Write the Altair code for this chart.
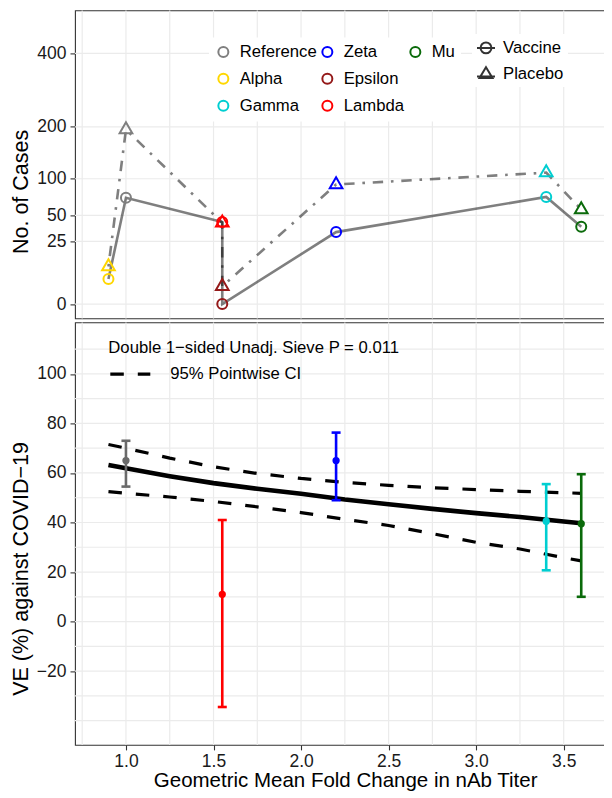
import altair as alt
import pandas as pd

# ---------------- data ----------------
variants = ["Reference", "Alpha", "Gamma", "Zeta", "Epsilon", "Lambda", "Mu"]
fold_change = [1.0, 0.9, 3.4, 2.2, 1.55, 1.55, 3.6]
vaccine_cases = [72, 4, 73, 33, 0, 43, 38]
placebo_cases = [194, 9, 110, 91, 2, 42, 57]
line_order = [2, 1, 6, 5, 4, 3, 7]

legend_order = ["Reference", "Alpha", "Gamma", "Zeta", "Epsilon", "Lambda", "Mu", " "]
legend_colors = ["#7F7F7F", "#FFD700", "#00CED1", "#0000FF", "#941919", "#FF0000", "#0A6A0A", "#FFFFFF"]

ve_variants = ["Reference", "Lambda", "Zeta", "Gamma", "Mu"]
ve_colors = ["#6A6A6A", "#FF0000", "#0000FF", "#00CED1", "#0A6A0A"]
ve_fold = [1.0, 1.55, 2.2, 3.4, 3.6]
ve_est = [65, 11, 65, 40.5, 39.5]
ve_low = [54.5, -34.5, 49, 20.7, 10]
ve_high = [73, 41, 76.3, 55.5, 59.5]

curve_fold = [0.9, 1.0, 1.25, 1.5, 1.75, 2.0, 2.25, 2.5, 2.75, 3.0, 3.25, 3.5, 3.6]
curve_ve = [63.2, 61.9, 58.7, 55.9, 53.6, 51.6, 49.3, 47.4, 45.5, 43.8, 42.2, 40.4, 39.7]
curve_upper = [71.5, 70, 66, 62.5, 59.8, 57.8, 56.2, 55, 54, 53.3, 52.6, 52, 51.8]
curve_lower = [52.5, 51.8, 50.3, 48.5, 46.3, 44, 41.3, 38.8, 35.5, 32, 29.3, 25.8, 24.5]

x_major = [1.0, 1.5, 2.0, 2.5, 3.0, 3.5]
x_grid = [0.75, 1.0, 1.25, 1.5, 1.75, 2.0, 2.25, 2.5, 2.75, 3.0, 3.25, 3.5, 3.75]
cases_ticks = [0, 25, 50, 100, 200, 400]
ve_ticks = [-20, 0, 20, 40, 60, 80, 100]
ve_grid = [-40, -30, -20, -10, 0, 10, 20, 30, 40, 50, 60, 70, 80, 90, 100, 110]

groups = ["Vaccine", "Placebo"]
group_paths = [
    "M-0.6,0A0.6,0.6,0,1,1,0.6,0A0.6,0.6,0,1,1,-0.6,0Z M-1,0L1,0",
    "M0,-0.75L0.72,0.45L-0.72,0.45Z M-1,0.3L1,0.3",
]

# ---------------- tables ----------------
vac = pd.DataFrame({"Variant": variants, "Fold": fold_change, "Cases": vaccine_cases,
                    "Group": "Vaccine", "ord": line_order})
pla = pd.DataFrame({"Variant": variants, "Fold": fold_change, "Cases": placebo_cases,
                    "Group": "Placebo", "ord": line_order})
both = pd.concat([vac, pla], ignore_index=True)
xg = pd.DataFrame({"g": x_grid})
cg = pd.DataFrame({"c": cases_ticks})
vg = pd.DataFrame({"v": ve_grid})
ve_df = pd.DataFrame({"Variant": ve_variants, "Fold": ve_fold, "VE": ve_est,
                      "Low": ve_low, "High": ve_high})
curve_df = pd.DataFrame({"Fold": curve_fold, "VE": curve_ve})
ci_df = pd.concat([
    pd.DataFrame({"Fold": curve_fold, "VE": curve_upper, "bound": "upper"}),
    pd.DataFrame({"Fold": curve_fold, "VE": curve_lower, "bound": "lower"}),
], ignore_index=True)
ci_df["ci"] = "95% Pointwise CI"

FONT = "Liberation Sans"
GRID = "#EBEBEB"
W = 540.3
H_TOP = 308
H_BOT = 422.5

xscale = alt.Scale(domain=[0.709, 3.7945], nice=False, zero=False)
yscale_top = alt.Scale(type="sqrt", domain=[-1.3, 549], nice=False, zero=False)
yscale_bot = alt.Scale(domain=[-49.8, 120.8], nice=False, zero=False)

y_axis_top = alt.Axis(values=cases_ticks, title="No. of Cases", grid=False, domain=False,
                      tickSize=5, tickColor="#333333", tickWidth=1.1,
                      labelFontSize=17.5, labelColor="#1A1A1A", labelPadding=4,
                      titleFontSize=21.5, titleFontWeight="normal", titleColor="black",
                      titleX=-47.7, titleY=181, titleAngle=270, titleBaseline="alphabetic",
                      titleAlign="center", minExtent=42, maxExtent=42)
y_axis_bot = alt.Axis(values=ve_ticks, title="VE (%) against COVID\u221219", grid=False, domain=False,
                      tickSize=5, tickColor="#333333", tickWidth=1.1,
                      labelFontSize=17.5, labelColor="#1A1A1A", labelPadding=4,
                      titleFontSize=21.5, titleFontWeight="normal", titleColor="black",
                      titleX=-47.7, titleY=246, titleAngle=270, titleBaseline="alphabetic",
                      titleAlign="center", minExtent=42, maxExtent=42)
x_axis_bot = alt.Axis(values=x_major, format=".1f", title="Geometric Mean Fold Change in nAb Titer",
                      grid=False, domain=False, tickSize=5, tickColor="#333333", tickWidth=1.1,
                      labelFontSize=17.5, labelColor="#1A1A1A", labelPadding=3,
                      titleFontSize=20.5, titleFontWeight="normal", titleColor="black",
                      titlePadding=0)

color_top = alt.Scale(domain=legend_order, range=legend_colors)
color_legend = alt.Legend(title=None, orient="none", legendX=134, legendY=27, columns=3,
                          direction="vertical",
                          symbolType="circle", symbolSize=100, symbolStrokeWidth=2,
                          labelFontSize=16.7, labelColor="black", labelOffset=8,
                          rowPadding=8, columnPadding=1, padding=6, fillColor="white")
shape_legend = alt.Legend(title=None, orient="none", legendX=397, legendY=23.5,
                          symbolSize=324, symbolStrokeWidth=2, symbolStrokeColor="#333333",
                          symbolFillColor="transparent", symbolOpacity=1,
                          labelFontSize=16.7, labelColor="black", labelOffset=7,
                          rowPadding=5, padding=4, fillColor="white")

# ---------------- top panel ----------------
t_vgrid = alt.Chart(xg).mark_rule(color=GRID, strokeWidth=1.2).encode(
    x=alt.X("g:Q", scale=xscale, axis=None))
t_hgrid = alt.Chart(cg).mark_rule(color=GRID, strokeWidth=1.2).encode(
    y=alt.Y("c:Q", scale=yscale_top, axis=y_axis_top))
t_vline = alt.Chart(vac).mark_line(color="black", opacity=0.5, strokeWidth=2.6).encode(
    x=alt.X("Fold:Q", scale=xscale, axis=None),
    y=alt.Y("Cases:Q", scale=yscale_top, axis=y_axis_top),
    order="ord:Q")
t_pline = alt.Chart(pla).mark_line(color="black", opacity=0.5, strokeWidth=2.6,
                                    strokeDash=[2.6, 7.8, 10.4, 7.8]).encode(
    x=alt.X("Fold:Q", scale=xscale, axis=None),
    y=alt.Y("Cases:Q", scale=yscale_top, axis=y_axis_top),
    order="ord:Q")
t_vpts = alt.Chart(vac).mark_point(shape="circle", filled=False, size=100, strokeWidth=2,
                                    opacity=1).encode(
    x=alt.X("Fold:Q", scale=xscale, axis=None),
    y=alt.Y("Cases:Q", scale=yscale_top, axis=y_axis_top),
    color=alt.Color("Variant:N", scale=color_top, legend=color_legend))
t_ppts = alt.Chart(pla).mark_point(shape="triangle-up", filled=False, size=161, strokeWidth=2,
                                    opacity=1, yOffset=-1.8).encode(
    x=alt.X("Fold:Q", scale=xscale, axis=None),
    y=alt.Y("Cases:Q", scale=yscale_top, axis=y_axis_top),
    color=alt.Color("Variant:N", scale=color_top, legend=color_legend))
t_shape = alt.Chart(both).mark_point(opacity=0, size=10).encode(
    x=alt.X("Fold:Q", scale=xscale, axis=None),
    y=alt.Y("Cases:Q", scale=yscale_top, axis=y_axis_top),
    shape=alt.Shape("Group:N", scale=alt.Scale(domain=groups, range=group_paths),
                    legend=shape_legend))

top = alt.layer(t_vgrid, t_hgrid, t_vline, t_pline, t_vpts, t_ppts, t_shape).properties(
    width=W, height=H_TOP)

# ---------------- bottom panel ----------------
b_vgrid = alt.Chart(xg).mark_rule(color=GRID, strokeWidth=1.2).encode(
    x=alt.X("g:Q", scale=xscale, axis=x_axis_bot))
b_hgrid = alt.Chart(vg).mark_rule(color=GRID, strokeWidth=1.2).encode(
    y=alt.Y("v:Q", scale=yscale_bot, axis=y_axis_bot))
b_ci = alt.Chart(ci_df).mark_line(color="black", strokeWidth=3.2).encode(
    x=alt.X("Fold:Q", scale=xscale, axis=x_axis_bot),
    y=alt.Y("VE:Q", scale=yscale_bot, axis=y_axis_bot),
    detail="bound:N",
    strokeDash=alt.StrokeDash("ci:N", scale=alt.Scale(domain=["95% Pointwise CI"], range=[[13.5, 14]]),
                              legend=alt.Legend(title="Double 1\u2212sided Unadj. Sieve P = 0.011",
                                                orient="none", legendX=33.3, legendY=18,
                                                symbolType="stroke", symbolSize=1600,
                                                symbolStrokeWidth=3.2, symbolStrokeColor="black",
                                                titleFontSize=16.7, titleFontWeight="normal",
                                                titleColor="black", titlePadding=-5, titleLimit=500,
                                                labelFontSize=16.7, labelColor="black",
                                                labelOffset=18, padding=0)))
b_curve = alt.Chart(curve_df).mark_line(color="black", strokeWidth=4.6).encode(
    x=alt.X("Fold:Q", scale=xscale, axis=x_axis_bot),
    y=alt.Y("VE:Q", scale=yscale_bot, axis=y_axis_bot))
color_bot = alt.Scale(domain=ve_variants, range=ve_colors)
b_err = alt.Chart(ve_df).mark_rule(strokeWidth=2.6).encode(
    x=alt.X("Fold:Q", scale=xscale, axis=x_axis_bot),
    y=alt.Y("Low:Q", scale=yscale_bot, axis=y_axis_bot),
    y2="High:Q",
    color=alt.Color("Variant:N", scale=color_bot, legend=None))
b_caplo = alt.Chart(ve_df).mark_tick(thickness=2.6, size=9, orient="horizontal", opacity=1).encode(
    x=alt.X("Fold:Q", scale=xscale, axis=x_axis_bot),
    y=alt.Y("Low:Q", scale=yscale_bot, axis=y_axis_bot),
    color=alt.Color("Variant:N", scale=color_bot, legend=None))
b_caphi = alt.Chart(ve_df).mark_tick(thickness=2.6, size=9, orient="horizontal", opacity=1).encode(
    x=alt.X("Fold:Q", scale=xscale, axis=x_axis_bot),
    y=alt.Y("High:Q", scale=yscale_bot, axis=y_axis_bot),
    color=alt.Color("Variant:N", scale=color_bot, legend=None))
b_pts = alt.Chart(ve_df).mark_circle(size=53, opacity=1).encode(
    x=alt.X("Fold:Q", scale=xscale, axis=x_axis_bot),
    y=alt.Y("VE:Q", scale=yscale_bot, axis=y_axis_bot),
    color=alt.Color("Variant:N", scale=color_bot, legend=None))

bottom = alt.layer(b_vgrid, b_hgrid, b_ci, b_curve, b_err, b_caplo, b_caphi, b_pts).properties(
    width=W, height=H_BOT)

chart = alt.vconcat(top, bottom, spacing=0).resolve_scale(
    color="independent", x="shared"
).resolve_legend(
    color="independent", shape="independent", strokeDash="independent"
).properties(
    padding={"left": 1, "top": 0.4, "right": -13.5, "bottom": -1}
).configure(
    font=FONT
).configure_view(
    stroke="#333333", strokeWidth=1.1
)

chart.save("out.html", embed_options={"renderer": "svg", "actions": False})
